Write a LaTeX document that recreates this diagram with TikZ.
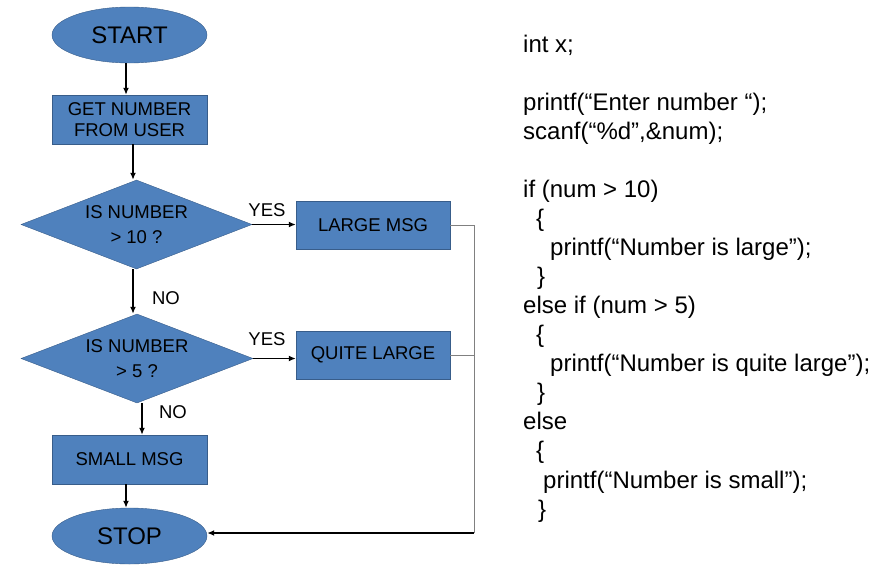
\documentclass[tikz,border=0pt]{standalone}
\usepackage{fontspec}
\setmainfont{Liberation Sans}
\usetikzlibrary{shapes.geometric,arrows.meta}
\definecolor{boxblue}{HTML}{4F81BD}
\definecolor{boxedge}{HTML}{385D8A}

\tikzstyle{terminal} = [ellipse, draw=boxedge, fill=boxblue, inner sep=0pt,
    minimum width=155pt, minimum height=56pt, font=\fontsize{24}{28}\selectfont]
\tikzstyle{process} = [rectangle, draw=boxedge, fill=boxblue, align=center,
    minimum width=155pt, minimum height=49pt, font=\fontsize{18.5}{21}\selectfont]
\tikzstyle{decision} = [diamond, draw=boxedge, fill=boxblue, aspect=2.6, inner sep=0pt,
    align=center, minimum width=231pt, minimum height=89pt, font=\fontsize{18.5}{25}\selectfont]
\tikzstyle{answer} = [inner sep=0pt, font=\fontsize{18.5}{21}\selectfont]
\tikzstyle{code} = [anchor=base west, inner sep=0pt, font=\fontsize{24}{29}\selectfont]
\tikzstyle{arrow} = [line width=1.8pt, -{Latex[length=7pt,width=6pt]}]
\tikzstyle{link} = [draw=gray, line width=1pt]

\begin{document}
\begin{tikzpicture}[x=1pt,y=-1pt]
	\useasboundingbox (0,0) rectangle (875,581);
	% flow chart
	\node [terminal] (start) at (129.5,35) {START};
	\node [process] (getnum) at (129.5,119.5) {GET NUMBER\\FROM USER};
	\node [decision] (decbig) at (136.5,224.5) {IS NUMBER\\> 10 ?};
	\node [decision, minimum width=232pt] (decmid) at (137,358.5) {IS NUMBER\\> 5 ?};
	\node [process] (small) at (129.5,459.5) {SMALL MSG};
	\node [terminal] (stop) at (129.5,536) {STOP};
	%
	\node [process, minimum width=154pt, minimum height=48pt] (large) at (373,225) {LARGE MSG};
	\node [process, minimum width=154pt, minimum height=48pt] (quite) at (373,355) {QUITE LARGE};
	%
	\node [answer] (yesbig) at (267,210) {YES};
	\node [answer] (nobig) at (166,298) {NO};
	\node [answer] (yesmid) at (267,339) {YES};
	\node [answer] (nomid) at (173,412) {NO};
	\coordinate (bus) at (474,533);
	%
	\draw [arrow] ([xshift=-3.5]start.south) -- ([xshift=-3.5]getnum.north);
	\draw [arrow] ([xshift=3.5]getnum.south) -- ([xshift=-3.5]decbig.north);
	\draw [arrow] ([xshift=-3.5]decbig.south) -- ([xshift=-4]decmid.north);
	\draw [arrow] ([xshift=5]decmid.south) -- ([xshift=12.5]small.north);
	\draw [arrow] ([xshift=-3.5]small.south) -- ([xshift=-3.5]stop.north);
	\draw [arrow] (decbig.east) -- (decbig.east -| large.west);
	\draw [arrow] (decmid.east) -- (decmid.east -| quite.west);
	%
	\draw [link] (large.east) -| (bus);
	\draw [link] (quite.east) -- (quite.east -| bus);
	\draw [arrow] (bus) -- (bus -| stop.east);
	% program text
	\node [code] (c1) at (523,52) {int x;};
	\node [code] (c2) at (523,110) {printf(“Enter number “);};
	\node [code] (c3) at (523,139) {scanf(“\%d”,\&num);};
	\node [code] (c4) at (523,197) {if (num > 10)};
	\node [code] (c5) at (536,226) {\{};
	\node [code] (c6) at (550,255) {printf(“Number is large”);};
	\node [code] (c7) at (537,284) {\}};
	\node [code] (c8) at (523,313) {else if (num > 5)};
	\node [code] (c9) at (536,342) {\{};
	\node [code] (c10) at (550,371) {printf(“Number is quite large”);};
	\node [code] (c11) at (537,400) {\}};
	\node [code] (c12) at (523,429) {else};
	\node [code] (c13) at (536,458) {\{};
	\node [code] (c14) at (543,488) {printf(“Number is small”);};
	\node [code] (c15) at (538,517) {\}};
\end{tikzpicture}
\end{document}
